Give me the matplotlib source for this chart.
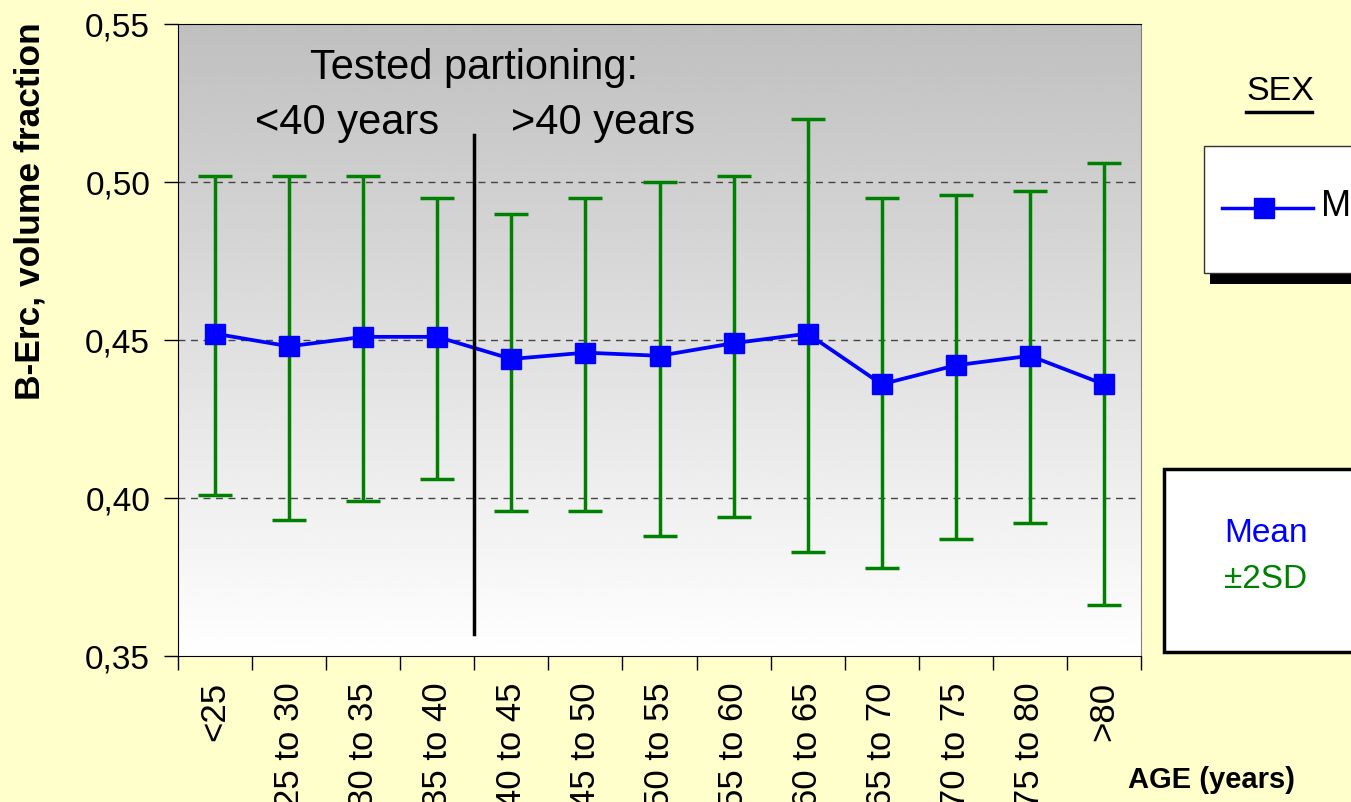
import numpy as np
import matplotlib.pyplot as plt
from matplotlib.patches import Rectangle
from matplotlib.lines import Line2D

plt.rcParams['font.family'] = ['Liberation Sans', 'DejaVu Sans']

# age groups and B-Erc volume fraction (mean, +2SD, -2SD)
groups = ['<25', '25 to 30', '30 to 35', '35 to 40', '40 to 45', '45 to 50', '50 to 55',
          '55 to 60', '60 to 65', '65 to 70', '70 to 75', '75 to 80', '>80']
mean = [0.452, 0.448, 0.451, 0.451, 0.444, 0.446, 0.445, 0.449, 0.452, 0.436, 0.442, 0.445, 0.436]
upper = [0.502, 0.502, 0.502, 0.495, 0.490, 0.495, 0.500, 0.502, 0.520, 0.495, 0.496, 0.497, 0.506]
lower = [0.401, 0.393, 0.399, 0.406, 0.396, 0.396, 0.388, 0.394, 0.383, 0.378, 0.387, 0.392, 0.366]
yticks = [0.35, 0.40, 0.45, 0.50, 0.55]

W, H = 1351, 803
bg = '#FFFFCC'
fig = plt.figure(figsize=(W/100, H/100), dpi=100, facecolor=bg)
ax = fig.add_axes([178/W, 1-657/H, (1141-178)/W, (657-25)/H])

x = np.arange(len(groups)) + 0.5
ax.set_xlim(0, len(groups))
ax.set_ylim(0.35, 0.55)

# gray -> white gradient background
grad = np.linspace(0, 1, 256).reshape(-1, 1)
ax.imshow(grad, extent=[0, len(groups), 0.35, 0.55], aspect='auto', cmap='gray',
          vmin=-3.0, vmax=1.0, origin='upper', zorder=0)

for yv in yticks[1:-1]:
    ax.axhline(yv, color='#444444', lw=1, ls=(0, (5, 4)), zorder=1)

m = np.array(mean)
err = [m - np.array(lower), np.array(upper) - m]
ax.errorbar(x, m, yerr=err, fmt='none', ecolor='#008000', elinewidth=2.5,
            capsize=12, capthick=2.5, zorder=3)
ax.plot(x, m, color='#0000FF', lw=2.7, marker='s', markersize=14, zorder=4)

ax.plot([4, 4], [0.357, 0.515], color='black', lw=2.5, zorder=5)
ax.text(4, 0.5364, 'Tested partioning:', ha='center', va='center', fontsize=30)
ax.text(2.28, 0.519, '<40 years', ha='center', va='center', fontsize=30)
ax.text(5.74, 0.519, '>40 years', ha='center', va='center', fontsize=30)

ax.set_yticks(yticks)
ax.set_yticklabels([('%.2f' % v).replace('.', ',') for v in yticks], fontsize=24)
ax.tick_params(axis='y', length=10, width=1, pad=10)
ax.set_xticks(x)
ax.set_xticklabels(groups, rotation=90, fontsize=25)
ax.set_xticks(np.arange(len(groups) + 1), minor=True)
ax.tick_params(axis='x', which='major', length=0, pad=18)
ax.tick_params(axis='x', which='minor', length=10, width=1)

for s in ['left', 'bottom', 'top']:
    ax.spines[s].set_color('black')
ax.spines['right'].set_color('#808080')

fig.text(30/W, 1-211/H, 'B-Erc, volume fraction', rotation=90, ha='center', va='center',
         fontsize=25.5, fontweight='bold')
fig.text(1212/W, 1-780/H, 'AGE (years)', ha='center', va='center', fontsize=21,
         fontweight='bold')

# legend boxes
fig.text(1280/W, 1-92/H, 'SEX', ha='center', va='center', fontsize=24.5)
fig.add_artist(Line2D([1246/W, 1312/W], [1-113/H, 1-113/H], color='black', lw=2.5))
fig.add_artist(Rectangle((1210/W, 1-285/H), (W-1210)/W, 13/H, facecolor='black',
                         edgecolor='none'))
fig.add_artist(Rectangle((1204/W, 1-274/H), (W+10-1204)/W, (274-147)/H, facecolor='white',
                         edgecolor='#333333', lw=1))
fig.add_artist(Line2D([1222/W, 1264/W, 1313/W], [1-209/H] * 3, color='#0000FF', lw=2.5,
                      marker='s', markersize=14, markevery=[1]))
fig.text(1321/W, 1-207/H, 'M', ha='left', va='center', fontsize=26)

fig.add_artist(Rectangle((1164/W, 1-653/H), (W+10-1164)/W, (653-470)/H, facecolor='white',
                         edgecolor='black', lw=2.5))
fig.text(1266/W, 1-533/H, 'Mean', ha='center', va='center', fontsize=24, color='#0000FF')
fig.text(1266/W, 1-580/H, '±2SD', ha='center', va='center', fontsize=24, color='#008000')

fig.savefig('out.png', dpi=100, facecolor=bg)
